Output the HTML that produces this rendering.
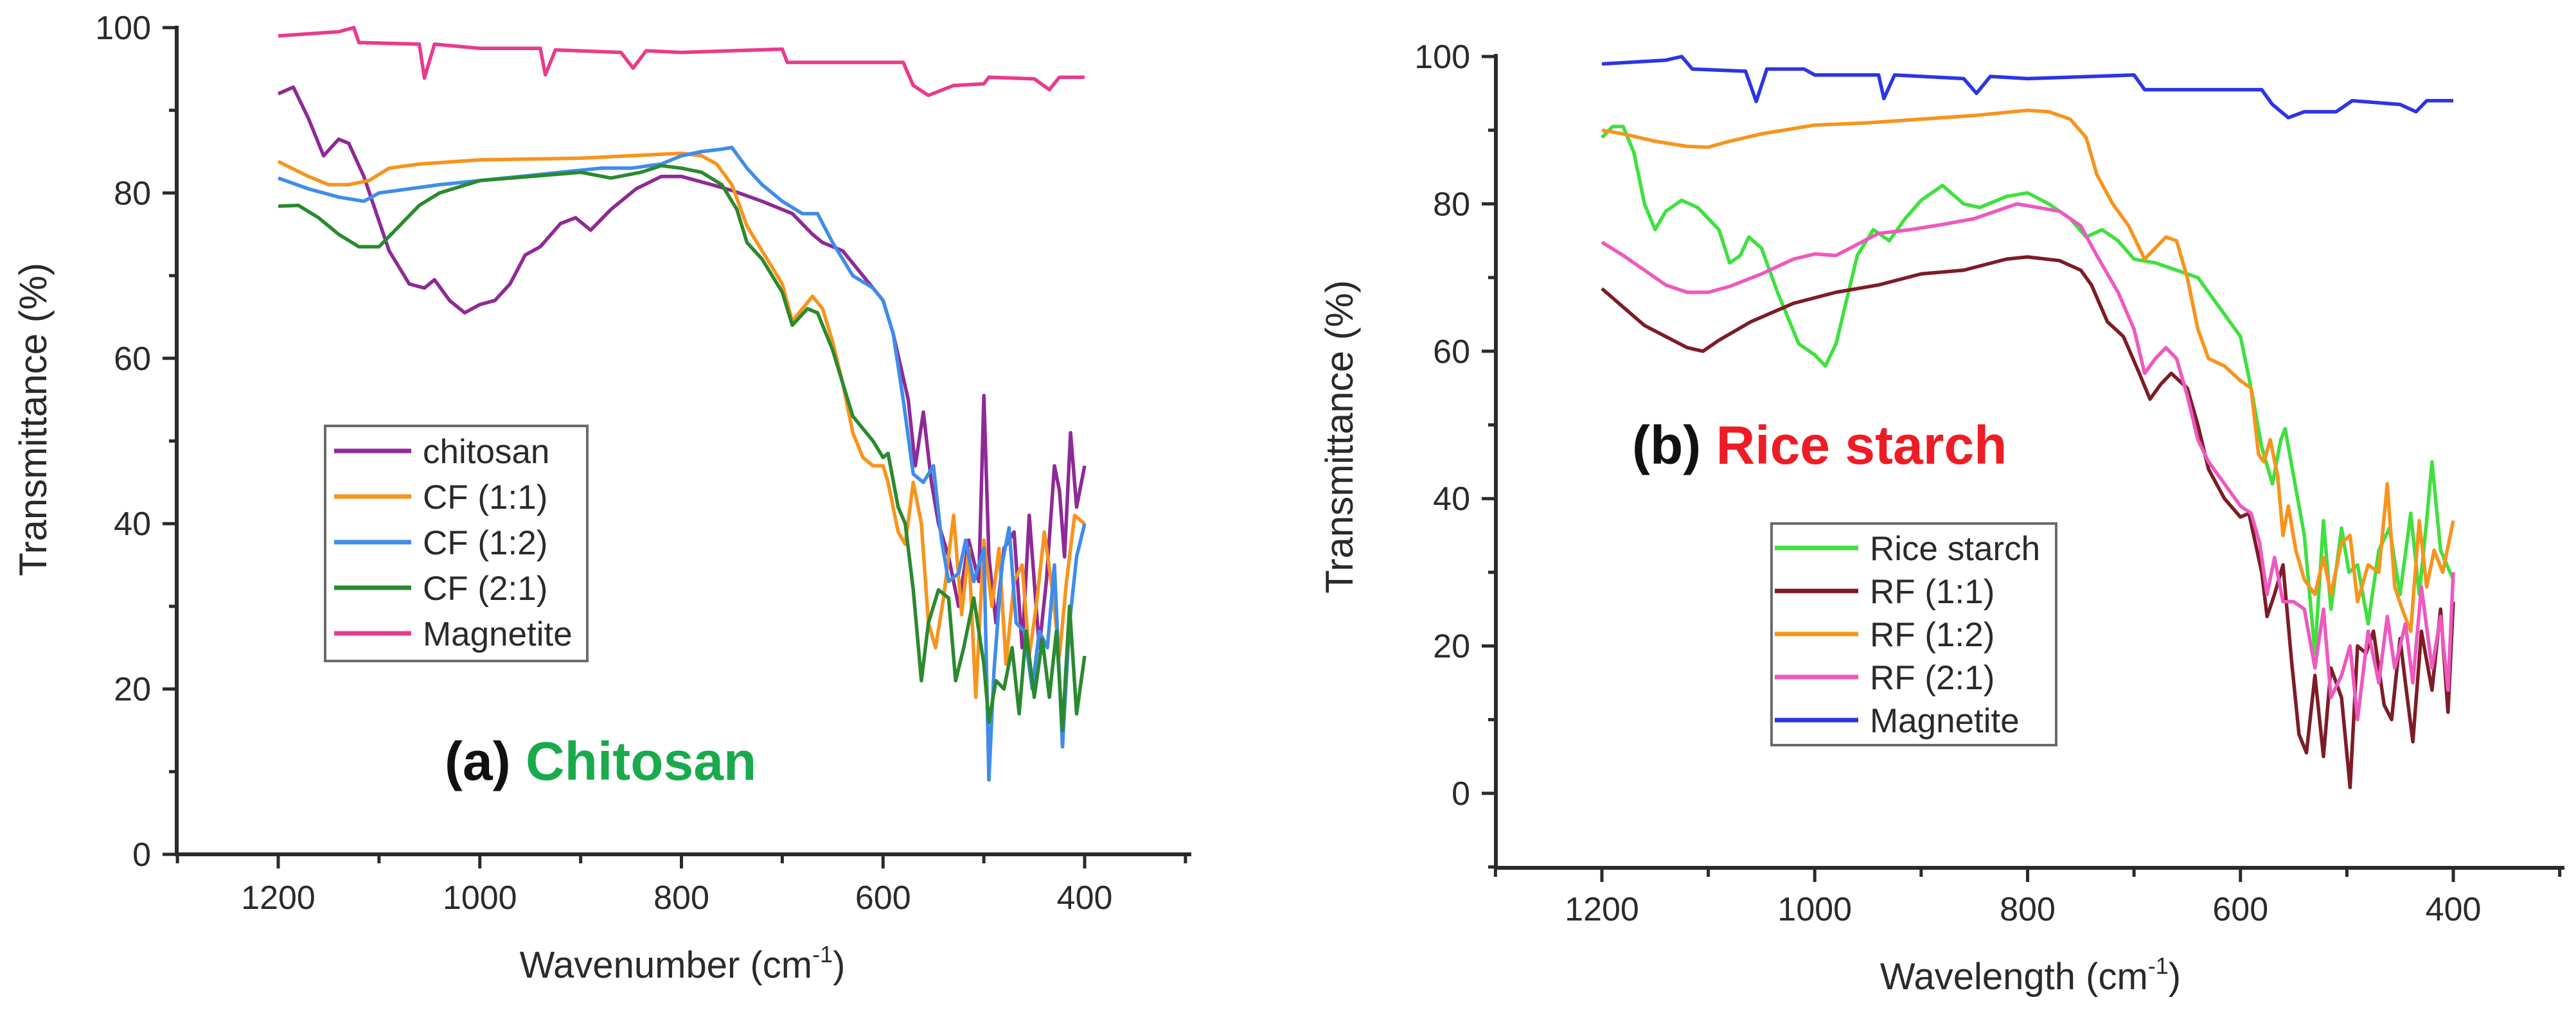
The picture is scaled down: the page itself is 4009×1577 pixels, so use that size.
<!DOCTYPE html>
<html><head><meta charset="utf-8"><style>
html,body{margin:0;padding:0;background:#fff;}
svg{display:block;}
text{font-family:"Liberation Sans",sans-serif;fill:#2a2a2a;}
</style></head><body>
<svg id="fig" width="4009" height="1577" viewBox="0 0 4009 1577" xmlns="http://www.w3.org/2000/svg"></svg>
<script>
// ---------- Panel (a) data ----------
const xTicksA = [1200, 1000, 800, 600, 400];
const yTicksA = [0, 20, 40, 60, 80, 100];
const magAWn = [1200,1140,1125,1120,1060,1055,1045,1000,940,935,925,860,848,835,800,700,695,580,570,555,530,500,495,450,435,425,400];
const magAVal = [99,99.5,100,98.2,98,93.9,98,97.5,97.5,94.3,97.3,97,95.1,97.2,97,97.4,95.8,95.8,93,91.8,93,93.2,94,93.8,92.5,94,94];
const chiWn = [1200,1185,1170,1155,1140,1130,1115,1090,1070,1055,1045,1030,1015,1000,985,970,955,940,920,905,890,870,845,820,800,770,750,720,690,670,660,640,620,600,590,575,568,560,552,545,535,525,515,505,500,495,488,480,470,462,455,445,438,430,425,420,414,408,400];
const chiVal = [92,92.8,89,84.5,86.5,86,82,73,69,68.5,69.5,67,65.5,66.5,67,69,72.5,73.5,76.3,77,75.5,78,80.5,82,82,81,80.3,79,77.5,75,74,73,70,67,63,55,47,53.5,45,40,36,30,38,33,55.5,36,28,37,39,25,41,25,33,47,44,36,51,42,47];
const cf11Wn = [1200,1170,1150,1130,1110,1090,1060,1000,900,800,780,765,750,735,720,700,690,680,670,660,650,640,630,620,610,600,595,585,578,570,562,555,548,540,530,522,515,508,500,492,485,478,470,462,455,448,440,432,425,418,410,400];
const cf11Val = [83.8,82,81,81,81.5,83,83.5,84,84.2,84.8,84.5,83.5,81,76,73,69,64.5,66,67.5,66,62,57,51,48,47,47,45,39,37.5,45,40,28,25,31,41,29,37,19,38,30,37,23,33,35,24,30,39,32,24,33,41,40];
const cf12Wn = [1200,1170,1140,1115,1100,1070,1040,1000,960,920,880,850,820,800,780,760,750,735,720,700,680,665,650,630,610,600,590,580,570,560,550,542,535,525,518,510,500,495,490,482,475,468,460,452,445,437,430,422,415,408,400];
const cf12Val = [81.8,80.5,79.5,79,80,80.5,81,81.5,82,82.5,83,83,83.5,84.5,85,85.3,85.5,83,81,79,77.5,77.5,74,70,68.5,67,63,55,46,45,47,38,33,34,38,33,37,9,22,35,39.5,28,27,20,27,25,35,13,28,36,40];
const cf21Wn = [1200,1180,1160,1140,1120,1100,1080,1060,1040,1000,950,900,870,840,820,800,780,760,745,735,720,700,690,675,665,650,640,630,620,610,600,595,585,578,570,562,555,545,535,528,520,510,500,495,488,480,472,465,458,450,442,435,428,422,415,408,400];
const cf21Val = [78.4,78.5,77,75,73.5,73.5,76,78.5,80,81.5,82,82.5,81.8,82.5,83.3,83,82.5,81,78,74,72,68,64,66,65.5,61,57,53,51.5,50,48,48.5,42,40,32,21,28,32,31,21,25,31,23,16,21,20,25,17,27,19,26,19,27,15,30,17,24];

// ---------- Panel (b) data ----------
const xTicksB = [1200, 1000, 800, 600, 400];
const yTicksB = [0, 20, 40, 60, 80, 100];
const magBWn = [1200,1140,1125,1115,1065,1055,1045,1010,1000,940,935,925,860,848,835,800,700,690,580,570,555,540,510,495,450,435,425,400];
const magBVal = [99,99.5,100,98.3,98,93.9,98.3,98.3,97.5,97.5,94.3,97.5,97,95,97.3,97,97.5,95.5,95.5,93.5,91.7,92.5,92.5,94,93.5,92.5,94,94];
const riceWn = [1200,1190,1180,1170,1160,1150,1140,1125,1110,1090,1080,1070,1062,1050,1035,1015,1000,990,980,960,945,930,915,900,880,860,845,820,800,780,760,745,730,715,700,680,660,640,620,600,590,580,570,562,558,550,540,530,522,515,505,498,490,480,470,460,450,440,432,425,420,412,400];
const riceVal = [89,90.5,90.5,87,80,76.5,79,80.5,79.5,76.5,72,73,75.5,74,68,61,59.5,58,61,73,76.5,75,78,80.5,82.5,80,79.5,81,81.5,80,78,75.5,76.5,75,72.5,72,71,70,66,62,55,47,42,48,49.5,43,35,19,37,25,36,30,31,23,33,36,27,38,27,37,45,33,29];
const rf11Wn = [1200,1180,1160,1140,1120,1105,1090,1060,1020,980,940,900,860,820,800,770,750,740,725,710,695,685,675,665,650,640,630,615,600,592,580,575,568,560,552,545,538,530,522,515,505,497,490,482,475,465,458,450,445,438,430,420,412,405,400];
const rf11Val = [68.5,66,63.5,62,60.5,60,61.5,64,66.5,68,69,70.5,71,72.5,72.8,72.3,71,69,64,62,57,53.5,55.5,57,55,50,44,40,37.5,38,30,24,27,31,18,8,5.5,16,5,17,13,0.8,20,19,22,12,10,21,15,7,22,14,25,11,26];
const rf12Wn = [1200,1180,1150,1120,1100,1080,1050,1000,950,900,850,800,780,760,745,735,720,705,690,680,670,660,650,640,630,615,600,590,583,578,572,565,560,555,548,540,530,522,515,505,497,490,480,470,462,455,448,440,432,425,418,410,400];
const rf12Val = [90,89.5,88.5,87.8,87.7,88.5,89.5,90.7,91,91.5,92,92.7,92.5,91.5,89,84,80,77,72.5,74,75.5,75,70,63,59,58,56,55,46,45,48,43,35,39,33,29,27,32,27,34,35,26,31,30,42,28,25,22,37,28,33,30,37];
const rf21Wn = [1200,1180,1160,1140,1120,1100,1080,1050,1020,1000,980,960,940,910,880,850,820,810,790,770,750,735,715,700,690,680,670,660,650,640,630,620,610,600,590,582,575,568,560,550,540,530,522,515,505,497,490,480,470,462,455,445,438,430,420,412,405,400];
const rf21Val = [74.8,73,71,69,68,68,68.8,70.5,72.5,73.2,73,74.5,76,76.5,77.2,78,79.5,80,79.5,79,77,73,68,63,57,59,60.5,59,54,48,45,43,41,39,38,34,27,32,26,26,25,17,25,13,16,20,10,22,15,24,17,23,15,28,17,24,14,30];

const labelsA = ["chitosan","CF (1:1)","CF (1:2)","CF (2:1)","Magnetite"];
const labelsB = ["Rice starch","RF (1:1)","RF (1:2)","RF (2:1)","Magnetite"];

const NS = "http://www.w3.org/2000/svg";
const svg = document.getElementById('fig');
function mk(tag, attrs, parent, txt){
  const e = document.createElementNS(NS, tag);
  for (const k in attrs) e.setAttribute(k, attrs[k]);
  if (txt !== undefined) e.textContent = txt;
  (parent || svg).appendChild(e);
  return e;
}

// axis functions
const xA = w => 433 + (1200 - w) * 1.5688;
const yA = v => 1330 - v * 12.87;
const xB = w => 2493 + (1200 - w) * 1.6563;
const yB = v => 1235 - v * 11.47;

function drawPanel(p){
  const g = mk('g', {});
  
  
  const ax = mk('path', {d:`M${p.axX},${p.axTop} L${p.axX},${p.axY} L${p.axRight},${p.axY}`, fill:'none', stroke:'#2a2a2a', 'stroke-width':6}, g);
  
  
  for (let w = 1300; w >= 300; w -= 100){
    const x = p.x(w);
    if (x < p.axX - 2 || x > p.axRight) continue;
    const major = (w % 200 === 0);
    const t = mk('line', {x1:x, y1:p.axY, x2:x, y2:p.axY + (major ? 22 : 14), stroke:'#2a2a2a', 'stroke-width':5}, g);
    
    
  }
  for (const w of p.xTicks){
    const t = mk('text', {x:p.x(w), y:p.xLabY, 'font-size':52, 'text-anchor':'middle'}, g, String(w));
    
    
  }
  for (let v = p.yMin; v <= 100; v += 10){
    const y = p.y(v);
    const major = (v % 20 === 0);
    const t = mk('line', {x1:p.axX, y1:y, x2:p.axX - (major ? 22 : 12), y2:y, stroke:'#2a2a2a', 'stroke-width':5}, g);
    
    
  }
  for (const v of p.yTicks){
    const t = mk('text', {x:p.axX - 40, y:p.y(v) + 18, 'font-size':52, 'text-anchor':'end'}, g, String(v));
    
    
  }
  const xt = mk('text', {x:p.xTitleX, y:p.xTitleY, 'font-size':58, 'text-anchor':'middle'}, g);
  
  
  mk('tspan', {}, xt, p.xTitle + ' (cm');
  mk('tspan', {'font-size':36, dy:-24}, xt, '-1');
  mk('tspan', {dy:24}, xt, ')');
  const yt = mk('text', {x:0, y:0, 'font-size':60, 'text-anchor':'middle', transform:`translate(${p.yTitleX},${p.yTitleY}) rotate(-90)`}, g, 'Transmittance (%)');
  
  
  p.series.forEach(s => {
    const d = s.wn.map((w, i) => (i ? 'L' : 'M') + p.x(w).toFixed(1) + ',' + p.y(s.val[i]).toFixed(1)).join(' ');
    const path = mk('path', {d, fill:'none', stroke:s.color, 'stroke-width':5.5, 'stroke-linejoin':'round'}, g);
    
    
  });
  const lg = mk('g', {}, g);
  
  
  mk('rect', {x:p.leg.x, y:p.leg.y, width:p.leg.w, height:p.leg.h, fill:'#fff', stroke:'#6a6a6a', 'stroke-width':4}, lg);
  p.series.forEach((s, i) => {
    const ey = p.leg.y0 + i * p.leg.dy;
    const e = mk('g', {}, lg);
    
    
    mk('line', {x1:p.leg.lx1, y1:ey, x2:p.leg.lx2, y2:ey, stroke:s.color, 'stroke-width':7}, e);
    mk('text', {x:p.leg.tx, y:ey + 19, 'font-size':53}, e, p.labels[i]);
  });
  const pt = mk('text', {x:p.title.x, y:p.title.y, 'font-size':84, 'font-weight':'bold'}, g);
  
  
  mk('tspan', {style:'fill:#111'}, pt, p.title.a + ' ');
  mk('tspan', {style:'fill:' + p.title.color}, pt, p.title.b);
}

drawPanel({
  name:'panel-a-chitosan', x:xA, y:yA, axX:275, axY:1330, axTop:40, axRight:1854, yMin:0,
  xTicks:xTicksA, yTicks:yTicksA, xLabY:1415, xTitle:'Wavenumber', xTitleX:1062, xTitleY:1522,
  yTitleX:72, yTitleY:653, labels:labelsA,
  series:[
    {id:'chitosan-line', wn:chiWn, val:chiVal, color:'#8e2a96'},
    {id:'cf-1-1-line', wn:cf11Wn, val:cf11Val, color:'#f7941d'},
    {id:'cf-1-2-line', wn:cf12Wn, val:cf12Val, color:'#3f8ceb'},
    {id:'cf-2-1-line', wn:cf21Wn, val:cf21Val, color:'#2a8a2e'},
    {id:'magnetite-a-line', wn:magAWn, val:magAVal, color:'#ea3a8c'}
  ],
  leg:{x:506, y:663, w:408, h:366, y0:702, dy:71, lx1:520, lx2:640, tx:658},
  title:{x:692, y:1214, a:'(a)', b:'Chitosan', color:'#1aaa4c'}
});
drawPanel({
  name:'panel-b-rice-starch', x:xB, y:yB, axX:2328, axY:1351, axTop:84, axRight:3991, yMin:-10,
  xTicks:xTicksB, yTicks:yTicksB, xLabY:1433, xTitle:'Wavelength', xTitleX:3160, xTitleY:1540,
  yTitleX:2105, yTitleY:680, labels:labelsB,
  series:[
    {id:'rice-starch-line', wn:riceWn, val:riceVal, color:'#3fe03f'},
    {id:'rf-1-1-line', wn:rf11Wn, val:rf11Val, color:'#7d1c26'},
    {id:'rf-1-2-line', wn:rf12Wn, val:rf12Val, color:'#f7941d'},
    {id:'rf-2-1-line', wn:rf21Wn, val:rf21Val, color:'#ee58bf'},
    {id:'magnetite-b-line', wn:magBWn, val:magBVal, color:'#2b35e6'}
  ],
  leg:{x:2757, y:815, w:443, h:345, y0:853, dy:67, lx1:2762, lx2:2892, tx:2910},
  title:{x:2540, y:722, a:'(b)', b:'Rice starch', color:'#ee1c25'}
});
</script>
</body></html>
